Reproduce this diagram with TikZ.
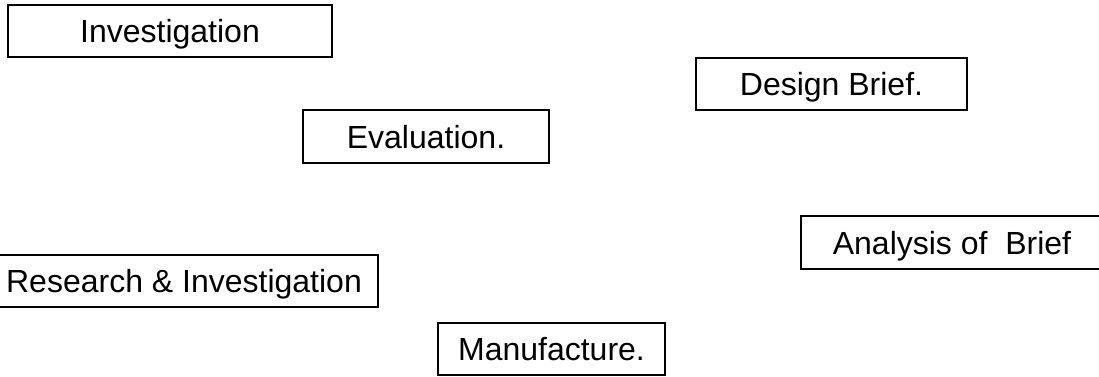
\documentclass[tikz,border=0pt]{standalone}
\usepackage{fontspec}
\setmainfont{Liberation Sans}
\begin{document}
\begin{tikzpicture}[x=1pt,y=-1pt,
  box/.style={draw=black,line width=1.3pt,rectangle,inner sep=0pt,
    text height=23pt,text depth=0pt,font=\fontsize{32pt}{38pt}\selectfont}]
\useasboundingbox (0,0) rectangle (1099,376);
\clip (0,0) rectangle (1099,376);
\node[box,minimum width=324pt,minimum height=52pt] (inv) at (170,31) {Investigation};
\node[box,minimum width=271pt,minimum height=52pt] (db) at (831.5,84) {Design Brief.};
\node[box,minimum width=246pt,minimum height=53pt] (ev) at (426,136.5) {Evaluation.};
\node[box,minimum width=302pt,minimum height=53pt] (an) at (952,242.5) {Analysis of\ \ Brief};
\node[box,minimum width=388pt,minimum height=52pt] (rs) at (184,281) {Research \& Investigation};
\node[box,minimum width=227pt,minimum height=52pt] (mf) at (551.5,349) {Manufacture.};
\end{tikzpicture}
\end{document}
